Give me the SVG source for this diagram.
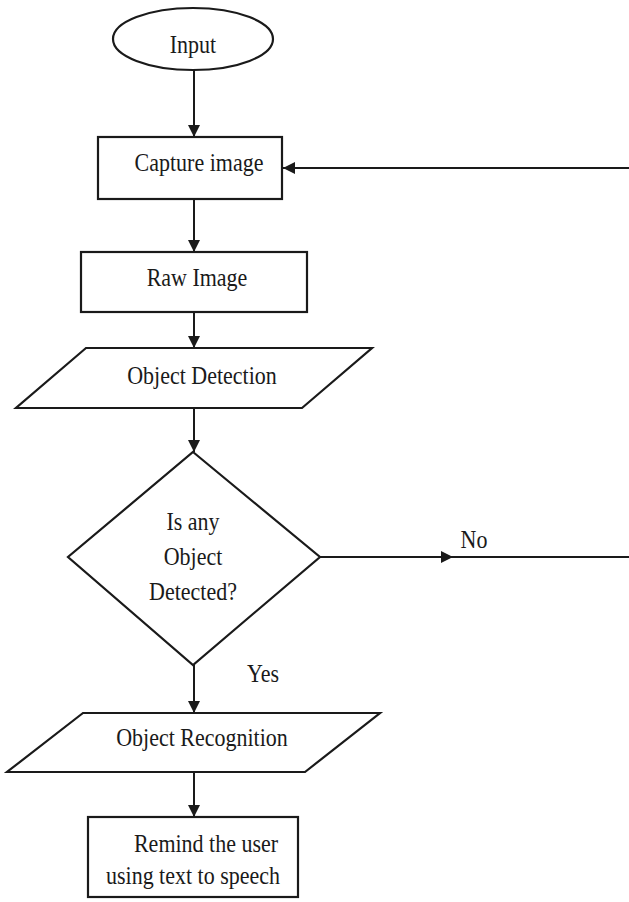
<svg xmlns="http://www.w3.org/2000/svg" width="629" height="902" viewBox="0 0 629 902">
<style>
.s{fill:#fff;stroke:#1a1a1a;stroke-width:2.2}
.c{fill:none;stroke:#1a1a1a;stroke-width:2}
text{font-family:"Liberation Serif","Times New Roman",serif;font-size:22px;fill:#1a1a1a;text-anchor:middle}
</style>
<defs>
<marker id="ah" viewBox="0 0 12 12" refX="12" refY="6" markerWidth="12" markerHeight="12" markerUnits="userSpaceOnUse" orient="auto">
<path d="M0,0 L12,6 L0,12 Z" fill="#1a1a1a"/>
</marker>
</defs>
<rect width="629" height="902" fill="#fff"/>
<g id="connectors">
<line class="c" x1="194" y1="70" x2="194" y2="137" marker-end="url(#ah)"/>
<line class="c" x1="629" y1="168" x2="283" y2="168" marker-end="url(#ah)"/>
<line class="c" x1="194" y1="199" x2="194" y2="252" marker-end="url(#ah)"/>
<line class="c" x1="194" y1="312" x2="194" y2="348" marker-end="url(#ah)"/>
<line class="c" x1="194" y1="408" x2="194" y2="452" marker-end="url(#ah)"/>
<line class="c" x1="320" y1="557" x2="453" y2="557" marker-end="url(#ah)"/>
<line class="c" x1="450" y1="557" x2="629" y2="557"/>
<line class="c" x1="194" y1="665" x2="194" y2="713" marker-end="url(#ah)"/>
<line class="c" x1="194" y1="772" x2="194" y2="817" marker-end="url(#ah)"/>
<text transform="translate(474,548) scale(1,1.18)">No</text>
<text transform="translate(263,682) scale(1,1.18)">Yes</text>
</g>
<g id="input">
<ellipse class="s" cx="193" cy="39" rx="80" ry="31"/>
<text transform="translate(193,53) scale(1,1.18)">Input</text>
</g>
<g id="capture">
<rect class="s" x="98" y="137" width="184" height="62"/>
<text transform="translate(199,171) scale(1,1.18)">Capture image</text>
</g>
<g id="raw">
<rect class="s" x="81" y="252" width="226" height="60"/>
<text transform="translate(197,286) scale(1,1.18)">Raw Image</text>
</g>
<g id="detection">
<polygon class="s" points="86,348 372,348 302,408 16,408"/>
<text transform="translate(202,384) scale(1,1.18)">Object Detection</text>
</g>
<g id="decision">
<polygon class="s" points="193,452 320,557 193,665 68,557"/>
<text transform="translate(193,530) scale(1,1.18)">Is any</text>
<text transform="translate(193,565) scale(1,1.18)">Object</text>
<text transform="translate(193,600) scale(1,1.18)">Detected?</text>
</g>
<g id="recognition">
<polygon class="s" points="83,713 380,713 305,772 7,772"/>
<text transform="translate(202,746) scale(1,1.18)">Object Recognition</text>
</g>
<g id="remind">
<rect class="s" x="88" y="817" width="210" height="80"/>
<text transform="translate(206,852) scale(1,1.18)">Remind the user</text>
<text transform="translate(193,884) scale(1,1.18)">using text to speech</text>
</g>
</svg>
